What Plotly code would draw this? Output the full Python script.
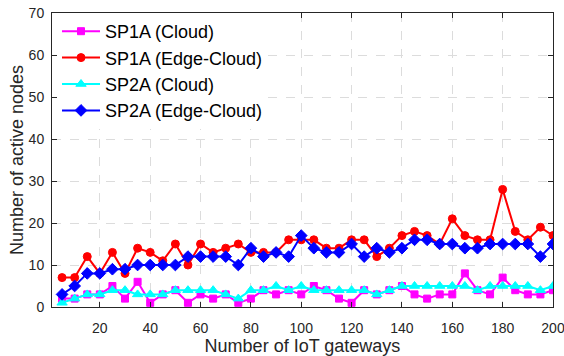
import plotly.graph_objects as go

gateways = list(range(5, 201, 5))

sp1a_cloud = [2, 2, 3, 3, 5, 2, 6, 1, 3, 4, 1, 3, 2, 3, 1, 2, 4, 3, 4, 3,
              5, 4, 2, 1, 4, 3, 4, 5, 3, 2, 3, 3, 8, 4, 3, 7, 4, 3, 3, 4]
sp1a_edge = [7, 7, 12, 8, 13, 8, 14, 13, 11, 15, 10, 15, 13, 14, 15, 13, 13, 13, 16, 16,
             16, 14, 14, 16, 16, 12, 14, 17, 18, 17, 15, 21, 17, 16, 16, 28, 18, 16, 19, 17]
sp2a_cloud = [1, 2, 3, 3, 4, 4, 3, 3, 3, 4, 4, 4, 4, 3, 2, 4, 4, 5, 4, 5,
              4, 4, 4, 4, 4, 3, 4, 5, 5, 5, 5, 5, 5, 4, 5, 5, 5, 5, 4, 5]
sp2a_edge = [3, 5, 8, 8, 9, 9, 10, 10, 10, 10, 12, 12, 12, 12, 10, 14, 12, 13, 12, 17,
             14, 13, 13, 15, 12, 14, 13, 14, 16, 16, 15, 15, 14, 14, 15, 15, 15, 15, 12, 15]

series_names = ["SP1A (Cloud)", "SP1A (Edge-Cloud)", "SP2A (Cloud)", "SP2A (Edge-Cloud)"]
series_values = [sp1a_cloud, sp1a_edge, sp2a_cloud, sp2a_edge]
colors = ["#FF00FF", "#FF0000", "#00FFFF", "#0000FF"]
symbols = ["square", "circle", "triangle-up", "diamond"]
sizes = [7, 8, 9, 9]

x_ticks = [20, 40, 60, 80, 100, 120, 140, 160, 180, 200]
y_ticks = [0, 10, 20, 30, 40, 50, 60, 70]

FONT = "Arial, 'Liberation Sans', Helvetica, sans-serif"
AX = "#262626"

fig = go.Figure()
for name, vals, c, s, sz in zip(series_names, series_values, colors, symbols, sizes):
    fig.add_trace(go.Scatter(
        x=gateways, y=vals, name=name, mode="lines+markers",
        line=dict(color=c, width=2),
        marker=dict(color=c, symbol=s, size=sz, line=dict(color=c, width=1)),
    ))

axis_common = dict(
    showline=True, linecolor=AX, linewidth=1, mirror="ticks",
    ticks="inside", ticklen=5, tickcolor=AX, tickwidth=1,
    showgrid=True, gridcolor="#DCDCDC", griddash="dash", gridwidth=1,
    zeroline=False, automargin=False, ticklabeloverflow="allow",
    tickfont=dict(family=FONT, size=14, color=AX),
)

fig.update_layout(
    width=564, height=356,
    margin=dict(l=52, r=11, t=13, b=49),
    paper_bgcolor="white", plot_bgcolor="white",
    font=dict(family=FONT, color=AX),
    xaxis=dict(range=[1, 200], tickvals=x_ticks, ticklabelstandoff=8,
               title=dict(text="Number of IoT gateways", font=dict(family=FONT, size=18, color=AX), standoff=6),
               **axis_common),
    yaxis=dict(range=[0, 70], tickvals=y_ticks, ticklabelstandoff=4,
               title=dict(text="Number of active nodes", font=dict(family=FONT, size=18, color=AX), standoff=0),
               **axis_common),
    legend=dict(x=0.01, y=1.0, xanchor="left", yanchor="top",
                bgcolor="rgba(255,255,255,1)", borderwidth=0,
                font=dict(family=FONT, size=18, color="black"),
                itemwidth=38, tracegroupgap=0),
    showlegend=True,
)

fig.write_html("out.html")
